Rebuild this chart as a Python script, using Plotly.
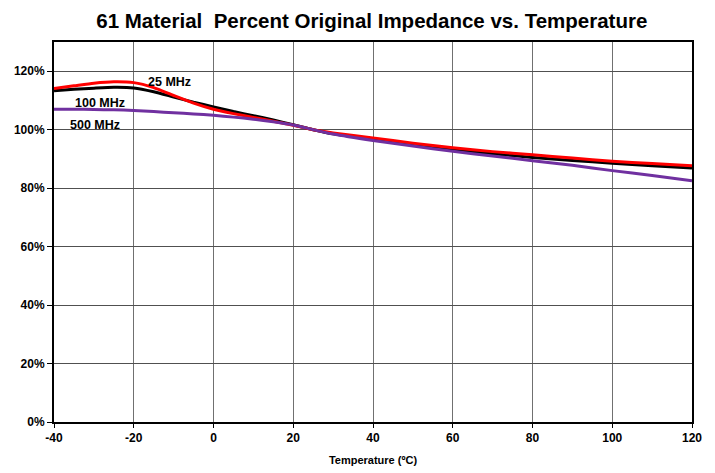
import plotly.graph_objects as go

# Temperature points (ºC) and percent of original impedance per frequency
temps = [-40, -35, -30, -25, -20, -15, -10, -5, 0, 5, 10, 15, 20, 25, 30, 40, 50, 60, 70, 80, 90, 100, 110, 120]
mhz25 = [114.1, 115.0, 115.9, 116.4, 116.1, 114.4, 111.7, 109.1, 107.0, 105.5, 104.2, 102.9, 101.5, 100.0,
         98.9, 97.2, 95.4, 93.8, 92.5, 91.4, 90.3, 89.2, 88.4, 87.7]
mhz100 = [113.3, 113.8, 114.2, 114.5, 114.3, 113.0, 111.2, 109.4, 107.8, 106.2, 104.8, 103.3, 101.7, 100.0,
          98.6, 96.8, 95.0, 93.2, 91.8, 90.5, 89.5, 88.5, 87.7, 86.9]
mhz500 = [107.0, 107.0, 106.9, 106.8, 106.6, 106.2, 105.8, 105.4, 104.9, 104.3, 103.6, 102.7, 101.6, 100.0,
          98.5, 96.3, 94.4, 92.6, 91.0, 89.4, 87.8, 86.0, 84.3, 82.5]

x_ticks = [-40, -20, 0, 20, 40, 60, 80, 100, 120]
y_ticks = [0, 20, 40, 60, 80, 100, 120]

font = "Liberation Sans, Arial, sans-serif"

fig = go.Figure()
for name, vals, color in [("100 MHz", mhz100, "#000000"),
                          ("25 MHz", mhz25, "#FF0000"),
                          ("500 MHz", mhz500, "#7030A0")]:
    fig.add_trace(go.Scatter(x=temps, y=vals, mode="lines", name=name,
                             line=dict(color=color, width=3, shape="spline", smoothing=0.6),
                             showlegend=False))

# Series labels placed near their curves
for text, tx, ty in [("25 MHz", -11, 116.4), ("100 MHz", -28.5, 109.0), ("500 MHz", -29.8, 101.6)]:
    fig.add_annotation(x=tx, y=ty, text=f"<b>{text}</b>", showarrow=False,
                       font=dict(family=font, size=12.5, color="#000000"))

fig.update_layout(
    width=715, height=473,
    margin=dict(l=54, r=23, t=42, b=51),
    paper_bgcolor="white", plot_bgcolor="white",
    title=dict(text="<b>61 Material&nbsp; Percent Original Impedance vs. Temperature</b>",
               x=0.52, xanchor="center", y=0.957, yanchor="middle",
               font=dict(family=font, size=20.5, color="#000000")),
    font=dict(family=font, color="#000000"),
)
fig.update_xaxes(range=[-40, 120], tickvals=x_ticks, ticktext=[f"<b>{v}</b>" for v in x_ticks],
                 showgrid=True, gridcolor="#707070", gridwidth=1,
                 showline=True, linecolor="#000000", linewidth=2, mirror=True,
                 ticks="outside", ticklen=4, tickcolor="#000000",
                 tickfont=dict(family=font, size=12),
                 zeroline=False, automargin=False,
                 title=dict(text="<b>Temperature (ºC)</b>", font=dict(family=font, size=11), standoff=12))
fig.update_yaxes(range=[0, 130], tickvals=y_ticks, ticktext=[f"<b>{v}%</b>" for v in y_ticks],
                 showgrid=True, gridcolor="#505050", gridwidth=1,
                 showline=True, linecolor="#000000", linewidth=2, mirror=True,
                 ticks="outside", ticklen=5, tickcolor="#000000",
                 tickfont=dict(family=font, size=12),
                 zeroline=False, automargin=False)

fig.write_html("out.html")
